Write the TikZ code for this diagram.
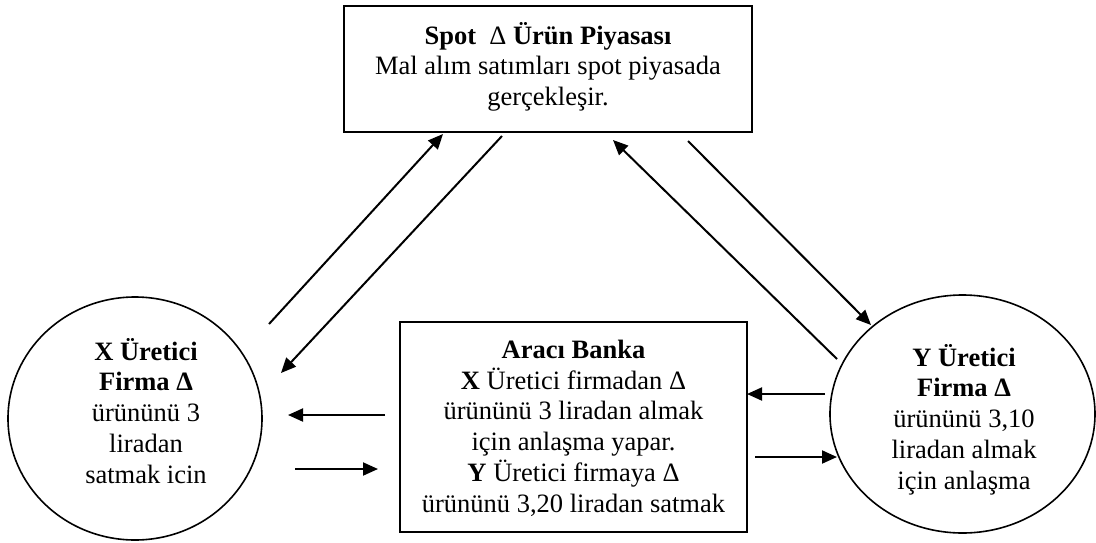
\documentclass[tikz,border=0pt]{standalone}
\usepackage{fontspec}
\setmainfont{Liberation Serif}
\usetikzlibrary{arrows.meta,shapes.geometric}
\begin{document}
\begin{tikzpicture}[x=1pt,y=-1pt,
  box/.style={draw, rectangle, line width=1.9pt, inner sep=0pt},
  oval/.style={draw, ellipse, line width=1.6pt, inner sep=0pt},
  txt/.style={align=center, inner sep=0pt, anchor=north,
    font=\fontsize{26.5}{30.7}\selectfont},
  flow/.style={line width=2pt, -{Triangle[length=15pt,width=13pt]}}]
  \useasboundingbox[fill=white] (0,0) rectangle (1096,542);

  % boxes and firms
  \node[box, minimum width=408pt, minimum height=126pt] (spot) at (548,69) {};
  \node[box, minimum width=347pt, minimum height=210pt] (bank) at (573.5,427) {};
  \node[oval, minimum width=254pt, minimum height=243pt] (firmx) at (135,418.5) {};
  \node[oval, minimum width=265pt, minimum height=238pt] (firmy) at (962.5,414) {};

  % texts
  \node[txt] (spottxt) at (548,22) {\textbf{Spot}\ \ Δ \textbf{Ürün Piyasası}\\
    Mal alım satımları spot piyasada\\ gerçekleşir.};
  \node[txt] (banktxt) at (573.5,340) {\textbf{Aracı Banka}\\
    \textbf{X} Üretici firmadan Δ\\ ürününü 3 liradan almak\\
    için anlaşma yapar.\\ \textbf{Y} Üretici firmaya Δ\\
    ürününü 3,20 liradan satmak};
  \node[txt] (firmxtxt) at (146,338) {\textbf{X Üretici}\\ \textbf{Firma Δ}\\
    ürününü 3\\ liradan\\ satmak icin};
  \node[txt] (firmytxt) at (964,344) {\textbf{Y Üretici}\\ \textbf{Firma Δ}\\
    ürününü 3,10\\ liradan almak\\ için anlaşma};

  % connector end points
  \coordinate (xs1) at (269,324);  \coordinate (st1) at (443,134);
  \coordinate (ss2) at (502,136);  \coordinate (xt2) at (281,373);
  \coordinate (bs3) at (385,415);  \coordinate (xt3) at (288,415);
  \coordinate (xs4) at (295,469);  \coordinate (bt4) at (378,469);
  \coordinate (ys5) at (837,359);  \coordinate (st5) at (613,140);
  \coordinate (ss6) at (688,141);  \coordinate (yt6) at (871,325);
  \coordinate (ys7) at (825,394);  \coordinate (bt7) at (747,394);
  \coordinate (bs8) at (755,457);  \coordinate (yt8) at (837,457);

  % flows
  \draw[flow] (xs1) -- (st1);
  \draw[flow] (ss2) -- (xt2);
  \draw[flow] (bs3) -- (xt3);
  \draw[flow] (xs4) -- (bt4);
  \draw[flow] (ys5) -- (st5);
  \draw[flow] (ss6) -- (yt6);
  \draw[flow] (ys7) -- (bt7);
  \draw[flow] (bs8) -- (yt8);
\end{tikzpicture}
\end{document}
